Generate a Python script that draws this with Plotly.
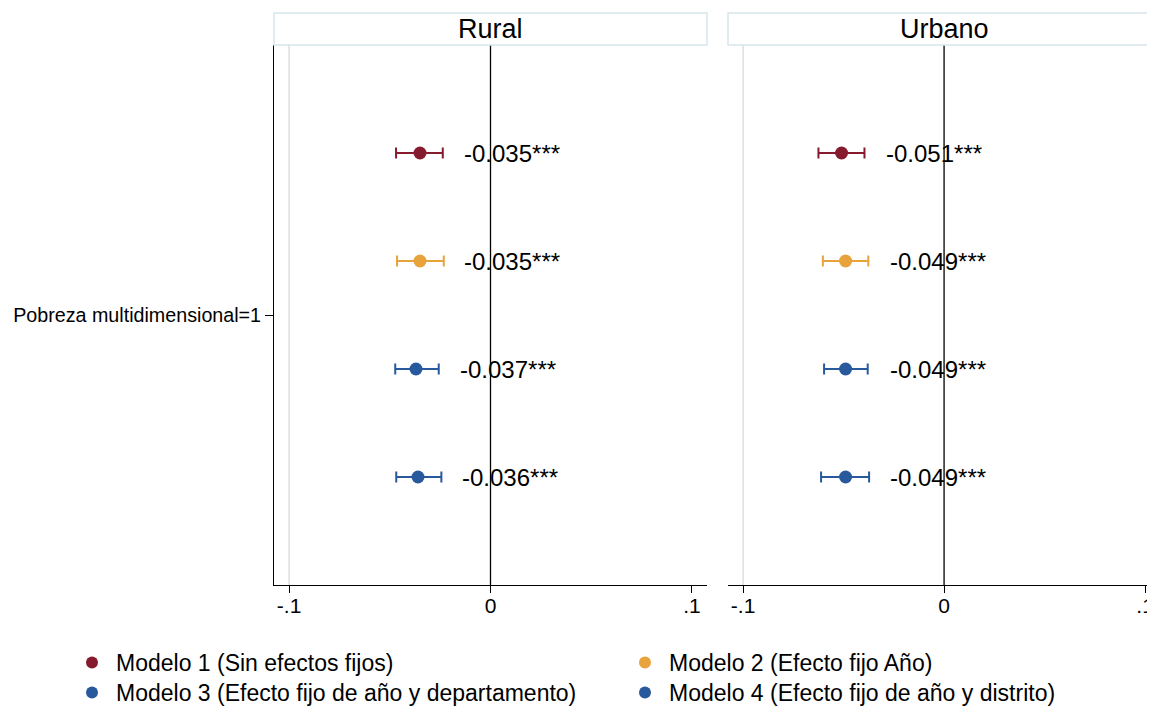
import plotly.graph_objects as go

# ---- data ----
panels = ["Rural", "Urbano"]
models = [
    "Modelo 1 (Sin efectos fijos)",
    "Modelo 2 (Efecto fijo Año)",
    "Modelo 3 (Efecto fijo de año y departamento)",
    "Modelo 4 (Efecto fijo de año y distrito)",
]
colors = ["#861b2d", "#e8a33c", "#27599c", "#27599c"]
stars = ["***", "***", "***", "***"]
rural_est = [-0.035, -0.035, -0.037, -0.036]
rural_lo = [-0.0469, -0.0464, -0.0473, -0.0468]
rural_hi = [-0.0237, -0.0232, -0.0257, -0.0244]
urban_est = [-0.051, -0.049, -0.049, -0.049]
urban_lo = [-0.0625, -0.0603, -0.0597, -0.0612]
urban_hi = [-0.0396, -0.0377, -0.0380, -0.0373]
xticks = [-0.1, 0, 0.1]
xticklabels = ["-.1", "0", ".1"]
ylabel = "Pobreza multidimensional=1"

FONT = "Liberation Sans, Arial, sans-serif"
# page body has an 8px margin; figure sized so it fits the 1155x706 window
W, H = 1147, 698
ML, MT, MB = 266, 37, 121
plotw = W - ML
offsets = [0.3 - 0.2 * i for i in range(len(models))]

fig = go.Figure()

panel_data = [
    (rural_est, rural_lo, rural_hi),
    (urban_est, urban_lo, urban_hi),
]
legend_ids = ["legend", "legend2", "legend3", "legend4"]

for p, (est, lo, hi) in enumerate(panel_data):
    xa = "x" if p == 0 else "x2"
    ya = "y" if p == 0 else "y2"
    for i, m in enumerate(models):
        fig.add_trace(go.Scatter(
            x=[est[i]], y=[offsets[i]],
            mode="markers",
            marker=dict(color=colors[i], size=13),
            error_x=dict(type="data", symmetric=False,
                         array=[hi[i] - est[i]], arrayminus=[est[i] - lo[i]],
                         color=colors[i], thickness=2, width=5.5),
            name=m, showlegend=(p == 0),
            legend=legend_ids[i],
            xaxis=xa, yaxis=ya, hoverinfo="skip",
        ))
        fig.add_annotation(
            x=est[i], y=offsets[i], xref=xa, yref=ya,
            text=f"{est[i]:.3f}{stars[i]}", showarrow=False,
            xanchor="left", yanchor="middle", xshift=42,
            font=dict(family=FONT, size=24, color="black"),
        )

# domains
d1 = [0, 433 / plotw]
d2 = [454 / plotw, 1]
xr1 = [-0.1075, 0.1075]
xr2 = [-0.1075, -0.1075 + (plotw - 454) / 2010]

common_x = dict(tickvals=xticks, ticktext=xticklabels, ticks="outside",
                ticklen=7, tickwidth=1, tickcolor="black",
                showline=True, linecolor="black", linewidth=1,
                showgrid=False, zeroline=False, tickangle=0,
                ticklabelstandoff=-5,
                tickfont=dict(family=FONT, size=21, color="black"))

leg_common = dict(orientation="v", xref="container", yref="container",
                  xanchor="left", yanchor="top", tracegroupgap=0,
                  itemwidth=38,
                  font=dict(family=FONT, size=23, color="black"),
                  itemsizing="constant", bgcolor="rgba(0,0,0,0)")

col_x = [60 / W, 613 / W]
row_y = [1 - 633 / H, 1 - 663 / H]

fig.update_layout(
    width=W, height=H,
    margin=dict(l=ML, r=0, t=MT, b=MB, autoexpand=False),
    paper_bgcolor="white", plot_bgcolor="white",
    font=dict(family=FONT, color="black"),
    xaxis=dict(domain=d1, range=xr1, anchor="y", **common_x),
    xaxis2=dict(domain=d2, range=xr2, anchor="y2", **common_x),
    yaxis=dict(range=[-0.5, 0.5], tickvals=[0], ticktext=[ylabel],
               ticks="outside", ticklen=8, tickcolor="black",
               showline=True, linecolor="black", linewidth=1,
               showgrid=False, zeroline=False,
               tickfont=dict(family=FONT, size=19.7, color="black")),
    yaxis2=dict(range=[-0.5, 0.5], anchor="x2", showticklabels=False,
                showline=False, showgrid=False, zeroline=False, ticks=""),
    legend=dict(x=col_x[0], y=row_y[0], **leg_common),
    legend2=dict(x=col_x[1], y=row_y[0], **leg_common),
    legend3=dict(x=col_x[0], y=row_y[1], **leg_common),
    legend4=dict(x=col_x[1], y=row_y[1], **leg_common),
    showlegend=True,
)

for p, name in enumerate(panels):
    xa = "x" if p == 0 else "x2"
    ya = "y" if p == 0 else "y2"
    # light grid line at the lowest tick
    fig.add_shape(type="line", xref=xa, yref=f"{ya} domain",
                  x0=xticks[0], x1=xticks[0], y0=0, y1=1,
                  line=dict(color="#cccccc", width=1), layer="below")
    # reference line at zero
    fig.add_shape(type="line", xref=xa, yref=f"{ya} domain",
                  x0=xticks[1], x1=xticks[1], y0=0, y1=1,
                  line=dict(color="black", width=1.3), layer="below")
    # strip
    fig.add_shape(type="rect", xref=f"{xa} domain", yref="paper",
                  x0=0, x1=1 if p == 0 else 1.01, y0=1.0, y1=1.0 + 32 / 540,
                  line=dict(color="#d8e6ec", width=1.5), fillcolor="white")
    fig.add_annotation(x=0.5 if p == 0 else 0.5 * 433 / (plotw - 454),
                       y=1.0 + 16 / 540, xref=f"{xa} domain", yref="paper",
                       text=name, showarrow=False, xanchor="center", yanchor="middle",
                       font=dict(family=FONT, size=27, color="black"))

fig.write_html("out.html")
